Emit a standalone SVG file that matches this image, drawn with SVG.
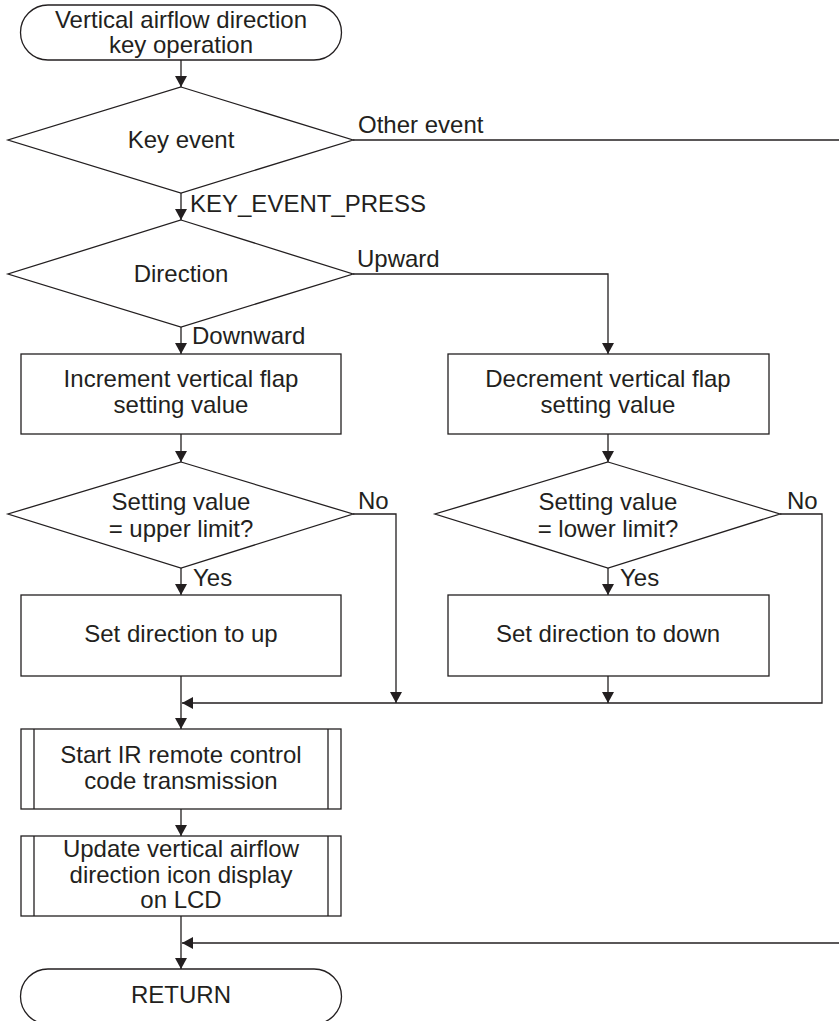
<svg xmlns="http://www.w3.org/2000/svg" width="839" height="1021" viewBox="0 0 839 1021">
<style>
.s{fill:#fff;stroke:#231f20;stroke-width:1.3}
.c{fill:none;stroke:#231f20;stroke-width:1.3}
text{font-family:"Liberation Sans",Arial,sans-serif;font-size:24px;fill:#231f20}
.m{text-anchor:middle}
</style>
<defs>
<marker id="ah" viewBox="0 0 11 12" refX="11" refY="6" markerWidth="11" markerHeight="12" orient="auto" markerUnits="userSpaceOnUse">
<path d="M0,0 L11,6 L0,12z" fill="#231f20"/>
</marker>
</defs>
<g id="connectors">
<path class="c" d="M181,60 V87" marker-end="url(#ah)"/>
<path class="c" d="M353,140 H839"/>
<path class="c" d="M181,193 V220" marker-end="url(#ah)"/>
<path class="c" d="M353,274 H608 V354" marker-end="url(#ah)"/>
<path class="c" d="M181,327 V354" marker-end="url(#ah)"/>
<path class="c" d="M181,434 V462" marker-end="url(#ah)"/>
<path class="c" d="M608,434 V462" marker-end="url(#ah)"/>
<path class="c" d="M181,568 V595" marker-end="url(#ah)"/>
<path class="c" d="M608,568 V595" marker-end="url(#ah)"/>
<path class="c" d="M353,514 H396 V703" marker-end="url(#ah)"/>
<path class="c" d="M780,514 H822 V703 H182" marker-end="url(#ah)"/>
<path class="c" d="M608,676 V703" marker-end="url(#ah)"/>
<path class="c" d="M181,676 V729" marker-end="url(#ah)"/>
<path class="c" d="M181,809 V836" marker-end="url(#ah)"/>
<path class="c" d="M839,943 H182" marker-end="url(#ah)"/>
<path class="c" d="M181,916 V969" marker-end="url(#ah)"/>
<text x="358" y="133">Other event</text>
<text x="190" y="212">KEY_EVENT_PRESS</text>
<text x="357" y="267">Upward</text>
<text x="192" y="344">Downward</text>
<text x="358" y="509">No</text>
<text x="193" y="586">Yes</text>
<text x="787" y="509">No</text>
<text x="620" y="586">Yes</text>
</g>
<g id="start">
<rect class="s" x="20.5" y="5" width="321" height="55" rx="27.5"/>
<text class="m" x="181" y="28">Vertical airflow direction</text>
<text class="m" x="181" y="53">key operation</text>
</g>
<g id="keyEvent">
<polygon class="s" points="181,87 353,140 181,193 8,140"/>
<text class="m" x="181" y="148">Key event</text>
</g>
<g id="direction">
<polygon class="s" points="181,220 353,274 181,327 8,274"/>
<text class="m" x="181" y="282">Direction</text>
</g>
<g id="increment">
<rect class="s" x="21" y="354" width="320" height="80"/>
<text class="m" x="181" y="387">Increment vertical flap</text>
<text class="m" x="181" y="413">setting value</text>
</g>
<g id="decrement">
<rect class="s" x="448" y="354" width="321" height="80"/>
<text class="m" x="608" y="387">Decrement vertical flap</text>
<text class="m" x="608" y="413">setting value</text>
</g>
<g id="upperLimit">
<polygon class="s" points="181,462 353,514 181,568 8,514"/>
<text class="m" x="181" y="510">Setting value</text>
<text class="m" x="181" y="537">= upper limit?</text>
</g>
<g id="lowerLimit">
<polygon class="s" points="608,462 780,514 608,568 435,514"/>
<text class="m" x="608" y="510">Setting value</text>
<text class="m" x="608" y="537">= lower limit?</text>
</g>
<g id="setUp">
<rect class="s" x="21" y="595" width="320" height="81"/>
<text class="m" x="181" y="642">Set direction to up</text>
</g>
<g id="setDown">
<rect class="s" x="448" y="595" width="321" height="81"/>
<text class="m" x="608" y="642">Set direction to down</text>
</g>
<g id="startIR">
<rect class="s" x="21" y="729" width="320" height="80"/>
<path class="c" d="M34,729 V809 M328,729 V809"/>
<text class="m" x="181" y="763">Start IR remote control</text>
<text class="m" x="181" y="789">code transmission</text>
</g>
<g id="updateLCD">
<rect class="s" x="21" y="836" width="320" height="80"/>
<path class="c" d="M34,836 V916 M328,836 V916"/>
<text class="m" x="181" y="857">Update vertical airflow</text>
<text class="m" x="181" y="883">direction icon display</text>
<text class="m" x="181" y="908">on LCD</text>
</g>
<g id="return">
<rect class="s" x="20.5" y="969" width="321" height="55" rx="27.5"/>
<text class="m" x="181" y="1003">RETURN</text>
</g>
</svg>
